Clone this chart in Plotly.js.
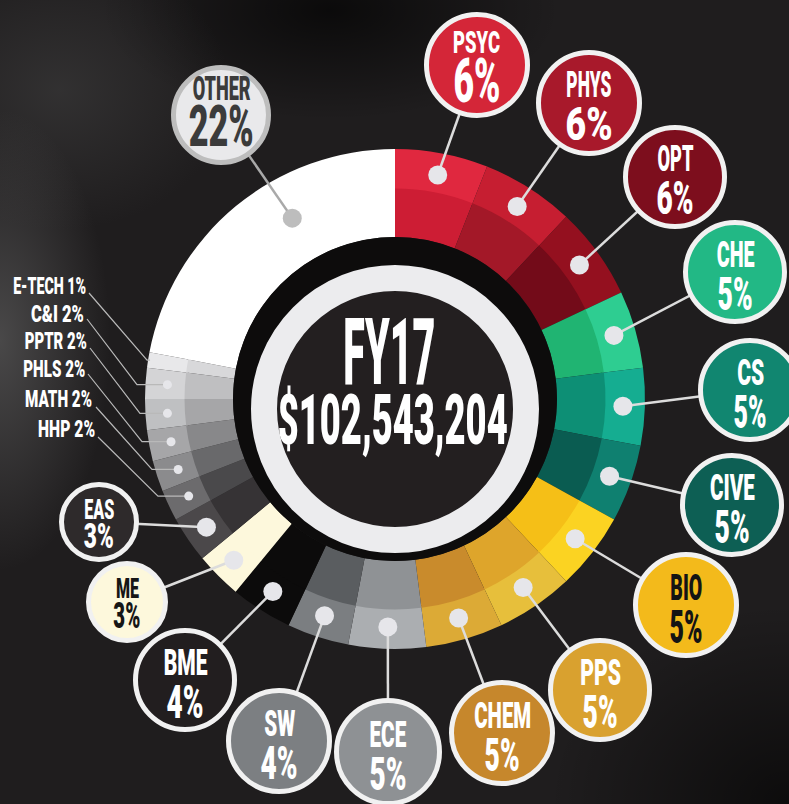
<!DOCTYPE html>
<html>
<head>
<meta charset="utf-8">
<script src="https://cdn.plot.ly/plotly-3.0.1.min.js"></script>
<style>
  html, body { margin:0; padding:0; background:#1e1c1d; }
  #wrap {
    width:789px; height:804px; position:relative; overflow:hidden;
    background:
      radial-gradient(ellipse 110px 230px at 0px 340px, rgba(125,125,125,0.45), rgba(0,0,0,0) 100%),
      radial-gradient(ellipse 170px 140px at 60px 90px, rgba(85,85,85,0.35), rgba(0,0,0,0) 100%),
      radial-gradient(ellipse 230px 110px at 330px 10px, rgba(0,0,0,0.65), rgba(0,0,0,0) 100%),
      radial-gradient(ellipse 240px 200px at 789px 804px, rgba(0,0,0,0.6), rgba(0,0,0,0) 100%),
      #1f1d1e;
  }
  #chart { width:789px; height:804px; }
</style>
</head>
<body>
<div id="wrap"><div id="chart"></div></div>
<script>
// ---------------- DATA ----------------
const categories = ['PSYC','PHYS','OPT','CHE','CS','CIVE','BIO','PPS','CHEM','ECE','SW','BME','ME','EAS','HHP','MATH','PHLS','PPTR','C&I','E-TECH','OTHER'];
const shares     = [6, 6, 6, 5, 5, 5, 5, 5, 5, 5, 4, 4, 3, 3, 2, 2, 2, 2, 2, 1, 22];
const pctLabels  = shares.map(v => v + '%');
const centerTitle = 'FY17';
const centerTotal = '$102,543,204';

// ---------------- STYLES ----------------
const outerColors = ['#e0283f','#c61e31','#94101f','#2ecd91','#15ad91','#0f8070','#fbd322','#e7bf3b','#dcaa36','#abaeb1','#7b7e81','#0c0b0b','#fdf8dc','#4b484a','#6c6b6d','#8b8b8d','#a6a6a8','#bfc0c2','#d4d4d6','#e8e8ea','#ffffff'];
const innerColors = ['#cd1d34','#a31828','#730b19','#20b472','#0d8f75','#0a5c51','#f5bf17','#dea52b','#c98b2c','#8f9295','#5a5d60','#0c0b0b','#fdf8dc','#363335','#4a494b','#69696b','#88888a','#a6a6a8','#bfbfc1','#d8d8da','#ffffff'];

const W = 789, H = 804;
const CX = 395, CY = 399, R_OUT = 250, R_MID = 209, R_IN = 162;
const DISC = {cx:395, cy:409, r:144, ring:26};
const px = x => x / W;
const py = y => 1 - y / H;
const dom = r => ({x:[px(CX - r), px(CX + r)], y:[py(CY + r), py(CY - r)]});

// bubble positions / text sizes / target text widths (px)
const callouts = {
  'PSYC':  {cx:477, cy:65,  r:53, fill:'#d42638', ls:31, ps:62, ldy:-23, pdy:15, lw:47, pw:47},
  'PHYS':  {cx:589, cy:103, r:53, fill:'#a8192b', lw:45, pw:47},
  'OPT':   {cx:675, cy:177, r:52, fill:'#7d0e1d', lw:36, pw:37},
  'CHE':   {cx:735, cy:272, r:52, fill:'#22b885', lw:38, pw:35},
  'CS':    {cx:750, cy:390, r:52, fill:'#118670', lw:27, pw:33},
  'CIVE':  {cx:732, cy:505, r:52, fill:'#0d5f54', lw:45, pw:35},
  'BIO':   {cx:686, cy:605, r:53, fill:'#f3ba1b', ink:'#141414', lw:32, pw:33},
  'PPS':   {cx:600, cy:690, r:52, fill:'#d9a12f', lw:41, pw:35},
  'CHEM':  {cx:502, cy:733, r:53, fill:'#c6872c', lw:57, pw:35},
  'ECE':   {cx:388, cy:752, r:54, fill:'#8e9194', lw:37, pw:37},
  'SW':    {cx:279, cy:741, r:53, fill:'#7c7f82', lw:31, pw:37},
  'BME':   {cx:185, cy:680, r:52, fill:'#221e1f', lw:44, pw:37},
  'ME':    {cx:127, cy:602, r:41, fill:'#fdf8dc', ink:'#161616', ls:27, ps:36, ldy:-13, pdy:14, lw:23, pw:27},
  'EAS':   {cx:99,  cy:522, r:40, fill:'#2e2a2b', ls:27, ps:36, ldy:-12, pdy:14, lw:30, pw:30},
  'OTHER': {cx:221, cy:115, r:50, fill:'#e9e9eb', ringColor:'#bdbdbd', ink:'#3b3b3b', ls:33, ps:58, ldy:-26, pdy:11,
            lw:58, pw:65, dotColor:'#bdbdbd', lineColor:'#a9a9a9', nudge:10, dotR:208}
};
const smallLabels = {
  'E-TECH': {tx:88, ty:286, tw:73, lx:89, ly:293},
  'C&I':    {tx:86, ty:314, tw:53, lx:87, ly:319, ex:137},
  'PPTR':   {tx:89, ty:341, tw:62, lx:90, ly:348, ex:140},
  'PHLS':   {tx:87, ty:369, tw:62, lx:88, ly:374, ex:142},
  'MATH':   {tx:94, ty:399, tw:67, lx:96, ly:407, ex:152},
  'HHP':    {tx:97, ty:429, tw:57, lx:98, ly:437, ex:158}
};

// ---------------- GEOMETRY FROM DATA ----------------
const total = shares.reduce((a, b) => a + b, 0);
let cum = 0;
const midAngles = shares.map(v => { const m = (cum + v / 2) / total * 360; cum += v; return m; });
const polar = (deg, r) => {
  const t = deg * Math.PI / 180;
  return [CX + r * Math.sin(t), CY - r * Math.cos(t)];
};

const FONT = 'Roboto, "Liberation Sans", Arial, sans-serif';
const shapes = [];
const dots = [];
const bubbleShapes = [];
const annSpecs = [];

// inner black band + white ring disc
shapes.push({type:'circle', layer:'above', xref:'paper', yref:'paper',
  x0:px(CX - R_IN), x1:px(CX + R_IN), y0:py(CY + R_IN), y1:py(CY - R_IN),
  fillcolor:'#0d0c0c', line:{width:0}});
const rr = DISC.r - DISC.ring / 2;
shapes.push({type:'circle', layer:'above', xref:'paper', yref:'paper',
  x0:px(DISC.cx - rr), x1:px(DISC.cx + rr), y0:py(DISC.cy + rr), y1:py(DISC.cy - rr),
  fillcolor:'#231f20', line:{color:'#ececee', width:DISC.ring}});

categories.forEach((cat, i) => {
  const c = callouts[cat];
  if (c) {
    const ang = midAngles[i] + (c.nudge || 0);
    const [dx, dy] = polar(ang, c.dotR || 228);
    shapes.push({type:'line', layer:'above', xref:'paper', yref:'paper',
      x0:px(dx), y0:py(dy), x1:px(c.cx), y1:py(c.cy),
      line:{color:c.lineColor || '#dcdcdc', width:2.5}});
    const dr = 9.5;
    dots.push({type:'circle', layer:'above', xref:'paper', yref:'paper',
      x0:px(dx - dr), x1:px(dx + dr), y0:py(dy + dr), y1:py(dy - dr),
      fillcolor:c.dotColor || '#e6e6ea', line:{width:0}});
    const br = c.r - 2.5;
    bubbleShapes.push({type:'circle', layer:'above', xref:'paper', yref:'paper',
      x0:px(c.cx - br), x1:px(c.cx + br), y0:py(c.cy + br), y1:py(c.cy - br),
      fillcolor:c.fill, line:{color:c.ringColor || '#f1f1f1', width:5}});
    const ink = c.ink || '#ffffff';
    annSpecs.push({text:cat, x:c.cx, y:c.cy + (c.ldy !== undefined ? c.ldy : -18), size:c.ls || 37, color:ink, tw:c.lw});
    annSpecs.push({text:pctLabels[i], x:c.cx, y:c.cy + (c.pdy !== undefined ? c.pdy : 21), size:c.ps || 47, color:ink, tw:c.pw});
  }
  const s = smallLabels[cat];
  if (s) {
    let path;
    if (s.ex === undefined) {
      const [ex, ey] = polar(midAngles[i], 248);
      path = `M${px(s.lx)},${py(s.ly)} L${px(ex - 3)},${py(ey)} L${px(ex)},${py(ey)}`;
    } else {
      const [dx, dy] = polar(midAngles[i], 228);
      path = `M${px(s.lx)},${py(s.ly)} L${px(s.ex)},${py(dy)} L${px(dx)},${py(dy)}`;
      const dr = 4.5;
      dots.push({type:'circle', layer:'above', xref:'paper', yref:'paper',
        x0:px(dx - dr), x1:px(dx + dr), y0:py(dy + dr), y1:py(dy - dr),
        fillcolor:'#e6e6ea', line:{width:0}});
    }
    shapes.push({type:'path', layer:'above', xref:'paper', yref:'paper', path:path,
      line:{color:'#b9b9b9', width:1.2}});
    annSpecs.push({text:cat + ' ' + pctLabels[i], x:s.tx, y:s.ty, size:24, color:'#ffffff',
      anchor:'right', tw:s.tw, origin:'100% 50%'});
  }
});

annSpecs.push({text:centerTitle, x:389, y:352, size:92, color:'#ffffff', tw:92});
annSpecs.push({text:centerTotal, x:392, y:420, size:70, color:'#ffffff', tw:230});

const annotations = annSpecs.map(a => ({
  text:a.text, xref:'paper', yref:'paper', x:px(a.x), y:py(a.y),
  xanchor:a.anchor || 'center', yanchor:'middle', showarrow:false,
  font:{family:FONT, size:a.size, color:a.color, weight:900}
}));

// ---------------- TRACES ----------------
const base = {type:'pie', values:shares, labels:categories, sort:false, direction:'clockwise',
  rotation:0, textinfo:'none', hoverinfo:'label+percent', showlegend:false};
const R_MID2 = R_MID + 1.5; // inner ring slightly overlaps outer ring to hide the seam
const traces = [
  Object.assign({}, base, {domain:dom(R_OUT), hole:R_MID / R_OUT, marker:{colors:outerColors, line:{width:0}}}),
  Object.assign({}, base, {domain:dom(R_MID2), hole:R_IN / R_MID2, marker:{colors:innerColors, line:{width:0}}})
];

const layout = {
  width:W, height:H, autosize:false, margin:{l:0, r:0, t:0, b:0},
  paper_bgcolor:'rgba(0,0,0,0)', plot_bgcolor:'rgba(0,0,0,0)',
  showlegend:false,
  shapes: shapes.concat(bubbleShapes, dots),
  annotations: annotations
};

Plotly.newPlot('chart', traces, layout, {displayModeBar:false, staticPlot:true}).then(gd => {
  gd.querySelectorAll('g.annotation').forEach(g => {
    const i = +g.getAttribute('data-index');
    const spec = annSpecs[i];
    if (!spec) return;
    const t = g.querySelector('text.annotation-text');
    if (!t) return;
    let s = spec.sx;
    if (spec.tw) { const w = t.getBBox().width; if (w > 0) s = spec.tw / w; }
    if (!s) return;
    t.style.transformBox = 'fill-box';
    t.style.transformOrigin = spec.origin || 'center';
    t.style.transform = 'scaleX(' + s + ')';
  });
});
</script>
</body>
</html>
